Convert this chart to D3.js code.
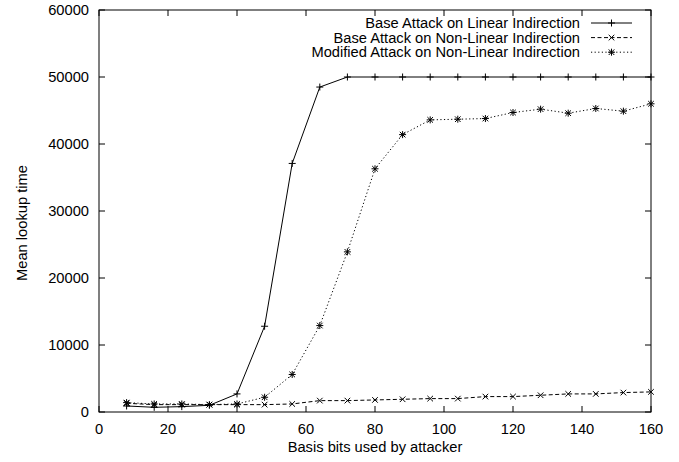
<!DOCTYPE html>
<html>
<head>
<meta charset="utf-8">
<script src="https://cdn.jsdelivr.net/npm/d3@7"></script>
<style>
  body { margin: 0; background: #fff; }
  text { font-family: "Liberation Sans", Arial, sans-serif; fill: #000; font-size: 14.7px; }
</style>
</head>
<body>
<script>
// Données
const bits = [8, 16, 24, 32, 40, 48, 56, 64, 72, 80, 88, 96, 104, 112, 120, 128, 136, 144, 152, 160];
const baseLinear = [900, 700, 800, 1000, 2700, 12800, 37100, 48500, 50000, 50000, 50000, 50000, 50000, 50000, 50000, 50000, 50000, 50000, 50000, 50000];
const baseNonLinear = [1300, 1100, 1100, 1100, 1100, 1100, 1200, 1700, 1700, 1800, 1900, 2000, 2000, 2300, 2300, 2500, 2700, 2700, 2900, 3000];
const modifiedNonLinear = [1400, 1200, 1200, 1100, 1200, 2200, 5600, 12900, 23900, 36300, 41400, 43600, 43700, 43800, 44700, 45200, 44600, 45300, 44900, 46000];
const xTicks = [0, 20, 40, 60, 80, 100, 120, 140, 160];
const yTicks = [0, 10000, 20000, 30000, 40000, 50000, 60000];
const seriesNames = [
    "Base Attack on Linear Indirection",
    "Base Attack on Non-Linear Indirection",
    "Modified Attack on Non-Linear Indirection"
];

const width = 679, height = 462;
const margin = { left: 99, right: 28, top: 10, bottom: 50 };

const svg = d3.select("body").append("svg").attr("width", width).attr("height", height);

const x = d3.scaleLinear().domain([0, 160]).range([margin.left, width - margin.right]);
const y = d3.scaleLinear().domain([0, 60000]).range([height - margin.bottom, margin.top]);

const series = [
    { name: seriesNames[0], values: baseLinear, dash: null, marker: "plus" },
    { name: seriesNames[1], values: baseNonLinear, dash: "4,2.5", marker: "cross" },
    { name: seriesNames[2], values: modifiedNonLinear, dash: "1.2,2.4", marker: "star" }
];

// Ticks (vers l'intérieur, en miroir comme gnuplot)
const tickLen = 6;
const g = svg.append("g").attr("stroke", "#000").attr("stroke-width", 1);
xTicks.forEach((t) => {
    g.append("line").attr("x1", x(t)).attr("x2", x(t)).attr("y1", y(0)).attr("y2", y(0) - tickLen);
    g.append("line").attr("x1", x(t)).attr("x2", x(t)).attr("y1", y(60000)).attr("y2", y(60000) + tickLen);
});
yTicks.forEach((t) => {
    g.append("line").attr("x1", x(0)).attr("x2", x(0) + tickLen).attr("y1", y(t)).attr("y2", y(t));
    g.append("line").attr("x1", x(160)).attr("x2", x(160) - tickLen).attr("y1", y(t)).attr("y2", y(t));
});

svg.selectAll(".xlabel")
    .data(xTicks)
    .enter()
    .append("text")
    .attr("class", "xlabel")
    .attr("x", (d) => x(d))
    .attr("y", y(0) + 22)
    .attr("text-anchor", "middle")
    .text((d) => d);

svg.selectAll(".ylabel")
    .data(yTicks)
    .enter()
    .append("text")
    .attr("class", "ylabel")
    .attr("x", x(0) - 10)
    .attr("y", (d) => y(d) + 5)
    .attr("text-anchor", "end")
    .text((d) => d);

// Titres des axes
svg.append("text")
    .attr("x", (x(0) + x(160)) / 2)
    .attr("y", 452)
    .attr("text-anchor", "middle")
    .text("Basis bits used by attacker");

svg.append("text")
    .attr("transform", "translate(27,223) rotate(-90)")
    .attr("text-anchor", "middle")
    .text("Mean lookup time");

// Marqueurs
function drawMarker(sel, type, cx, cy) {
    const s = 3.5;
    const m = sel.append("g").attr("stroke", "#000").attr("stroke-width", 1).attr("fill", "none");
    if (type === "plus" || type === "star") {
        m.append("line").attr("x1", cx - s).attr("x2", cx + s).attr("y1", cy).attr("y2", cy);
        m.append("line").attr("x1", cx).attr("x2", cx).attr("y1", cy - s).attr("y2", cy + s);
    }
    if (type === "cross" || type === "star") {
        const d = s * 0.8;
        m.append("line").attr("x1", cx - d).attr("x2", cx + d).attr("y1", cy - d).attr("y2", cy + d);
        m.append("line").attr("x1", cx - d).attr("x2", cx + d).attr("y1", cy + d).attr("y2", cy - d);
    }
}

const line = d3.line().x((d) => x(d[0])).y((d) => y(d[1]));
const plot = svg.append("g");

series.forEach((s) => {
    const pts = bits.map((b, i) => [b, s.values[i]]);
    plot.append("path")
        .datum(pts)
        .attr("d", line)
        .attr("fill", "none")
        .attr("stroke", "#000")
        .attr("stroke-width", 1)
        .attr("stroke-dasharray", s.dash);
    pts.forEach((p) => drawMarker(plot, s.marker, x(p[0]), y(p[1])));
});

// Légende
const legend = svg.append("g");
series.forEach((s, i) => {
    const ly = 23 + i * 14.6;
    legend.append("text")
        .attr("x", 580)
        .attr("y", ly + 5)
        .attr("text-anchor", "end")
        .text(s.name);
    legend.append("line")
        .attr("x1", 591).attr("x2", 632)
        .attr("y1", ly).attr("y2", ly)
        .attr("stroke", "#000")
        .attr("stroke-width", 1)
        .attr("stroke-dasharray", s.dash);
    drawMarker(legend, s.marker, 611.5, ly);
});

// Cadre
svg.append("rect")
    .attr("x", x(0)).attr("y", y(60000))
    .attr("width", x(160) - x(0)).attr("height", y(0) - y(60000))
    .attr("fill", "none")
    .attr("stroke", "#000")
    .attr("stroke-width", 1);
</script>
</body>
</html>
